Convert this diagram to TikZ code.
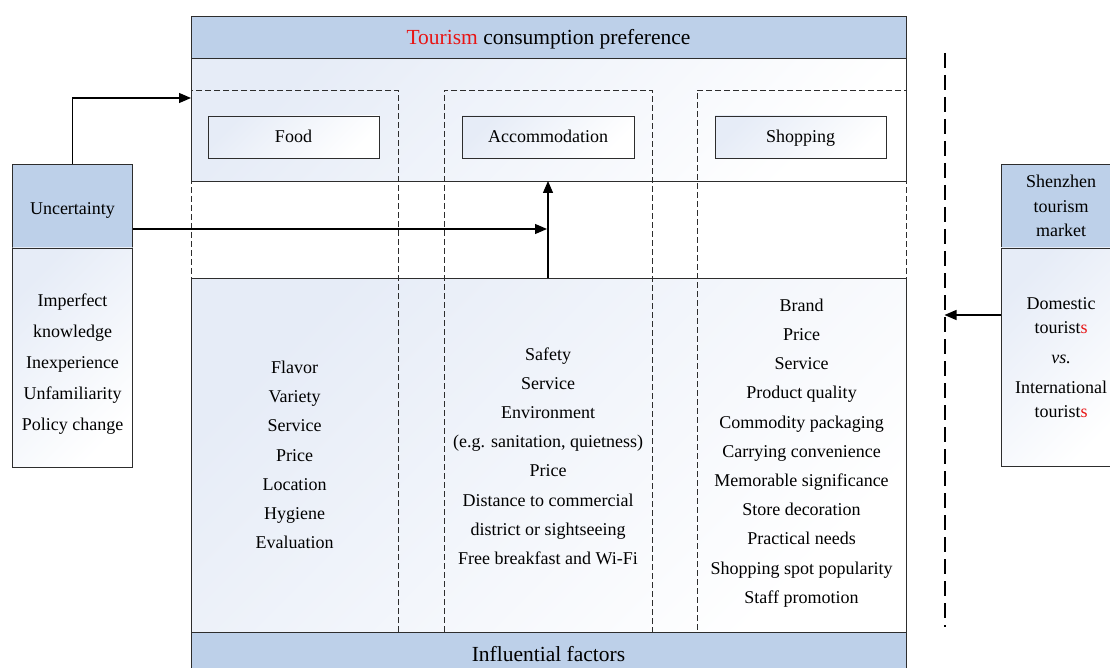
\documentclass[tikz,border=0pt]{standalone}
\usepackage{fontspec}
\setmainfont{Liberation Serif}
\usetikzlibrary{arrows.meta}
\definecolor{hdblue}{RGB}{189,208,233}
\definecolor{grblue}{RGB}{230,236,247}
\definecolor{edge}{RGB}{45,45,45}
\definecolor{tred}{RGB}{232,20,20}
\begin{document}
\begin{tikzpicture}[x=1pt,y=-1pt,
 box/.style={draw=edge, line width=0.9pt, rectangle, inner sep=0pt, outer sep=0pt},
 hdr/.style={box, fill=hdblue},
 grad/.style={box, top color=grblue, bottom color=white, shading angle=45},
 colbox/.style={draw=edge, line width=0.8pt, dash pattern=on 6pt off 3pt, rectangle, inner sep=0pt, outer sep=0pt},
 txt/.style={font=\fontsize{18}{29.2}\selectfont, align=center, inner sep=0pt},
 cattxt/.style={txt, text height=16pt, text depth=4pt},
 bigtxt/.style={font=\fontsize{21.5}{26}\selectfont, inner sep=0pt, text height=19pt, text depth=5pt},
 arr/.style={draw=black, line width=1.3pt, -{Triangle[length=12pt,width=10pt]}},
]
\useasboundingbox (0,0) rectangle (1110,668);
\begin{scope}
\clip (0,0) rectangle (1110,668);
% main frame parts
\node[grad, minimum width=715pt, minimum height=123pt] (upper) at (548.5,119.5) {};
\node[grad, minimum width=715pt, minimum height=354pt] (lower) at (548.5,455) {};
\node[hdr, minimum width=715pt, minimum height=42pt] (title) at (548.5,37) {};
\node[hdr, minimum width=715pt, minimum height=48pt] (bottom) at (548.5,656) {};
\node[bigtxt] (titletxt) at (548.5,38) {\textcolor{tred}{Tourism} consumption preference};
\node[bigtxt] (bottomtxt) at (548.5,654) {Influential factors};

% dashed columns
\node[colbox, minimum width=207pt, minimum height=542pt] (foodcol) at (294.5,361) {};
\node[colbox, minimum width=208pt, minimum height=542pt] (accomcol) at (548,361) {};
\node[colbox, minimum width=209pt, minimum height=542pt] (shopcol) at (801.5,361) {};

% category boxes
\node[grad, minimum width=171pt, minimum height=42pt] (food) at (293.5,137) {};
\node[grad, minimum width=172pt, minimum height=42pt] (accom) at (548,137) {};
\node[grad, minimum width=171pt, minimum height=42pt] (shop) at (800.5,137) {};
\node[cattxt] (foodtxt) at (food.center) {Food};
\node[cattxt] (accomtxt) at (accom.center) {Accommodation};
\node[cattxt] (shoptxt) at (shop.center) {Shopping};

% factor lists
\node[txt] (foodlist) at (294.5,455) {Flavor\\Variety\\Service\\Price\\Location\\Hygiene\\Evaluation};
\node[txt] (accomlist) at (548,456) {Safety\\Service\\Environment\\(e.g. sanitation, quietness)\\Price\\Distance to commercial\\district or sightseeing\\Free breakfast and Wi-Fi};
\node[txt] (shoplist) at (801.5,453) {Brand\\Price\\Service\\Product quality\\Commodity packaging\\Carrying convenience\\Memorable significance\\Store decoration\\Practical needs\\Shopping spot popularity\\Staff promotion};

% uncertainty
\node[hdr, minimum width=120pt, minimum height=84pt] (uncH) at (72.5,206) {};
\node[cattxt] (uncHtxt) at (72.5,208.5) {Uncertainty};
\node[grad, minimum width=120pt, minimum height=219pt] (uncL) at (72.5,357.5) {};
\node[txt, font=\fontsize{18}{31}\selectfont] (uncLtxt) at (72.5,364) {Imperfect\\knowledge\\Inexperience\\Unfamiliarity\\Policy change};

% Shenzhen market
\node[hdr, minimum width=120pt, minimum height=84pt] (szH) at (1061,206) {};
\node[txt, font=\fontsize{18}{24.5}\selectfont] (szHtxt) at (1061,206) {Shenzhen\\tourism\\market};
\node[grad, minimum width=120pt, minimum height=218pt] (szL) at (1061,357) {};
\node[txt, font=\fontsize{18}{24}\selectfont] (szLtxt) at (1061,358) {Domestic\\touris\mbox{t}\textcolor{tred}{s}\\[6pt]\textit{vs.}\\[6pt]International\\touris\mbox{t}\textcolor{tred}{s}};
\end{scope}

% divider
\coordinate (divtop) at (944.5,53);
\coordinate (divbot) at (944.5,627);
\draw[line width=2pt, dash pattern=on 15pt off 7pt] (divtop) -- (divbot);

% connectors
\draw[arr] (uncH.north) |- ([yshift=-8pt]foodcol.north west);
\draw[arr] ([yshift=-23pt]uncH.east) -- ([yshift=-23pt,xshift=-1pt]uncH.east -| accomcol.center);
\draw[arr] (lower.north -| accomcol.center) -- (upper.south -| accomcol.center);
\draw[arr] ([yshift=42pt]szL.west) -- ([yshift=42pt]szL.west -| divtop);
\end{tikzpicture}
\end{document}
